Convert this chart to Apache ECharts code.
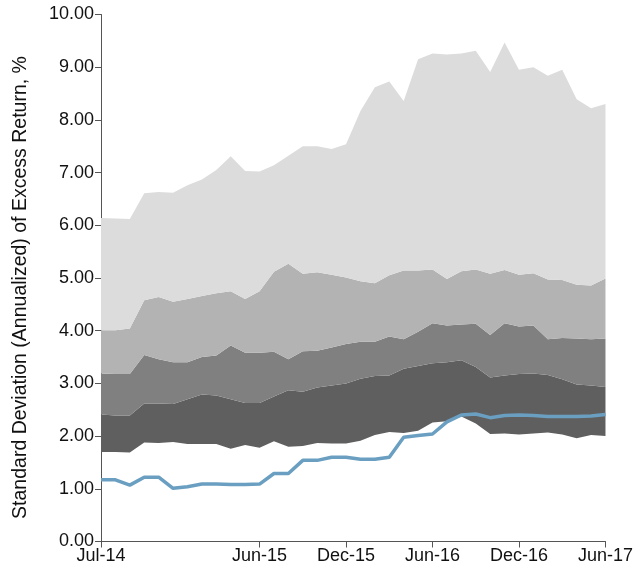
<!DOCTYPE html>
<html>
<head>
<meta charset="utf-8">
<script src="https://cdn.jsdelivr.net/npm/echarts@6/dist/echarts.min.js"></script>
<style>html,body{margin:0;padding:0;background:#fff}#c{width:636px;height:572px}</style>
</head>
<body>
<div id="c"></div>
<script>
// Monthly categories Jul-14 .. Jun-17
var months = ["Jul-14","Aug-14","Sep-14","Oct-14","Nov-14","Dec-14","Jan-15","Feb-15","Mar-15","Apr-15","May-15","Jun-15",
              "Jul-15","Aug-15","Sep-15","Oct-15","Nov-15","Dec-15","Jan-16","Feb-16","Mar-16","Apr-16","May-16","Jun-16",
              "Jul-16","Aug-16","Sep-16","Oct-16","Nov-16","Dec-16","Jan-17","Feb-17","Mar-17","Apr-17","May-17","Jun-17"];
var shownLabels = ["Jul-14","Jun-15","Dec-15","Jun-16","Dec-16","Jun-17"];
var yTicks = [0,1,2,3,4,5,6,7,8,9,10];

// Band boundaries (percentile levels), bottom to top
var band1 = [1.70,1.70,1.69,1.88,1.87,1.89,1.85,1.85,1.85,1.76,1.83,1.78,1.90,1.80,1.81,1.87,1.86,1.86,1.91,2.02,2.08,2.06,2.10,2.26,2.28,2.37,2.24,2.04,2.05,2.03,2.05,2.07,2.03,1.96,2.02,2.00];
var band2 = [2.41,2.39,2.39,2.62,2.62,2.61,2.70,2.79,2.77,2.70,2.63,2.63,2.75,2.87,2.84,2.92,2.96,3.00,3.09,3.14,3.15,3.28,3.33,3.38,3.40,3.44,3.31,3.11,3.15,3.18,3.19,3.16,3.08,2.98,2.96,2.93];
var band3 = [3.19,3.18,3.18,3.54,3.46,3.40,3.40,3.50,3.53,3.72,3.58,3.58,3.60,3.46,3.61,3.62,3.68,3.75,3.79,3.79,3.89,3.84,3.98,4.14,4.10,4.12,4.13,3.92,4.14,4.08,4.10,3.84,3.86,3.85,3.84,3.85];
var band4 = [4.01,4.01,4.04,4.58,4.64,4.55,4.60,4.66,4.71,4.75,4.60,4.75,5.12,5.27,5.08,5.11,5.06,5.01,4.94,4.90,5.05,5.14,5.14,5.16,4.98,5.13,5.16,5.08,5.15,5.06,5.09,4.97,4.96,4.87,4.86,4.99];
var band5 = [6.14,6.13,6.12,6.61,6.63,6.62,6.76,6.87,7.05,7.31,7.03,7.02,7.14,7.32,7.50,7.50,7.45,7.54,8.17,8.62,8.73,8.36,9.15,9.26,9.24,9.26,9.31,8.91,9.47,8.95,9.00,8.84,8.95,8.39,8.22,8.30];
// Highlighted fund line
var fund = [1.17,1.17,1.07,1.22,1.22,1.01,1.04,1.09,1.09,1.08,1.08,1.09,1.29,1.29,1.54,1.54,1.60,1.60,1.56,1.56,1.60,1.98,2.01,2.04,2.27,2.40,2.42,2.35,2.39,2.40,2.39,2.37,2.37,2.37,2.38,2.41];

var bounds = [band1, band2, band3, band4, band5];
var fills = ['rgba(0,0,0,0)', '#5f5f5f', '#7f807f', '#b3b3b3', '#dcdcdc'];

function diff(a, b) { return a.map(function (v, i) { return +(v - (b ? b[i] : 0)).toFixed(4); }); }

var series = bounds.map(function (arr, k) {
  return {
    type: 'line', stack: 'bands', symbol: 'none', silent: true,
    data: diff(arr, k ? bounds[k - 1] : null),
    lineStyle: { width: 0, opacity: 0 },
    areaStyle: { color: fills[k], opacity: k ? 1 : 0 },
    z: 2
  };
});
series.push({
  type: 'line', symbol: 'none', data: fund,
  lineStyle: { color: '#6a9fc1', width: 3.5 }, z: 5
});

var isShown = function (i) { return shownLabels.indexOf(months[i]) >= 0; };

var chart = echarts.init(document.getElementById('c'), null, { renderer: 'canvas' });
chart.setOption({
  animation: false,
  grid: { left: 101, right: 27.5, top: 14.5, bottom: 30.5 },
  xAxis: {
    type: 'category', data: months, boundaryGap: false,
    axisLine: { lineStyle: { color: '#555', width: 1 } },
    axisTick: { show: true, interval: function (i) { return isShown(i); }, length: 6, lineStyle: { color: '#555' } },
    axisLabel: { interval: function (i) { return isShown(i); }, color: '#111', fontSize: 18, fontFamily: 'Liberation Sans', margin: 6 },
    splitLine: { show: false }
  },
  yAxis: {
    type: 'value', min: yTicks[0], max: yTicks[yTicks.length - 1], interval: 1,
    name: 'Standard Deviation (Annualized) of Excess Return, %',
    nameLocation: 'middle', nameGap: 70, nameRotate: 90,
    nameTextStyle: { color: '#111', fontSize: 19.5, fontFamily: 'Liberation Sans', padding: [0, 19, 0, 0] },
    axisLine: { show: true, lineStyle: { color: '#555', width: 1 } },
    axisTick: { show: true, length: 6, lineStyle: { color: '#555' } },
    axisLabel: { color: '#111', fontSize: 18, fontFamily: 'Liberation Sans', margin: 7,
      formatter: function (v) { return v.toFixed(2); } },
    splitLine: { show: false }
  },
  series: series
});
</script>
</body>
</html>
